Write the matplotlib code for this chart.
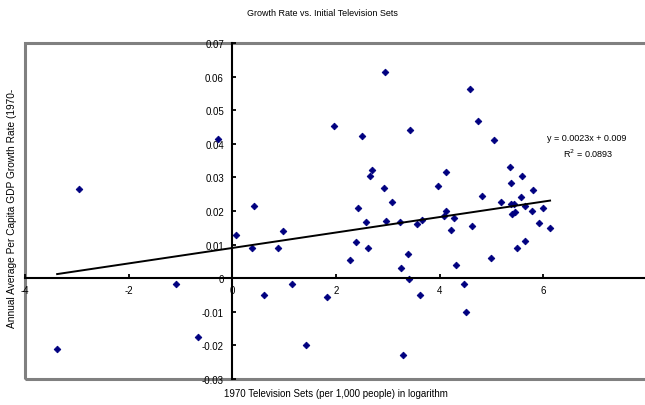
import numpy as np
import matplotlib
matplotlib.use("Agg")
import matplotlib.pyplot as plt
from matplotlib.patches import Rectangle

plt.rcParams['font.family'] = ['Liberation Sans Narrow', 'Liberation Sans', 'DejaVu Sans']

# log of 1970 TV sets per 1,000 people
tv_log = [-3.38, -2.96, -1.08, -0.66, -0.28, 0.08, 0.37, 0.42, 0.62, 0.88,
          0.97, 1.15, 1.42, 1.83, 1.96, 2.27, 2.38, 2.42, 2.50, 2.58,
          2.61, 2.65, 2.70, 2.92, 2.95, 2.96, 3.08, 3.23, 3.25, 3.29,
          3.38, 3.41, 3.42, 3.57, 3.63, 3.65, 3.96, 4.08, 4.12, 4.13,
          4.21, 4.28, 4.31, 4.47, 4.50, 4.58, 4.62, 4.73, 4.81, 5.00,
          5.04, 5.19, 5.35, 5.37, 5.38, 5.40, 5.43, 5.46, 5.49, 5.56,
          5.58, 5.64, 5.65, 5.79, 5.81, 5.92, 5.99, 6.13]
# annual average per capita GDP growth rate
growth = [-0.0210, 0.0266, -0.0018, -0.0174, 0.0415, 0.0129, 0.0089, 0.0216, -0.0049, 0.0089,
          0.0140, -0.0018, -0.0199, -0.0055, 0.0453, 0.0053, 0.0107, 0.0208, 0.0423, 0.0166,
          0.0089, 0.0305, 0.0322, 0.0268, 0.0614, 0.0171, 0.0226, 0.0166, 0.0029, -0.0228,
          0.0072, -0.0001, 0.0442, 0.0161, -0.0049, 0.0173, 0.0274, 0.0186, 0.0316, 0.0201,
          0.0142, 0.0178, 0.0039, -0.0016, -0.0101, 0.0564, 0.0154, 0.0468, 0.0244, 0.0059,
          0.0411, 0.0226, 0.0331, 0.0221, 0.0284, 0.0191, 0.0221, 0.0198, 0.0089, 0.0241,
          0.0304, 0.0112, 0.0214, 0.0199, 0.0263, 0.0163, 0.0208, 0.0148]

slope = 0.0023
intercept = 0.009
r2 = 0.0893

x_ticks = [-4, -2, 0, 2, 4, 6]
y_ticks = [-0.03, -0.02, -0.01, 0, 0.01, 0.02, 0.03, 0.04, 0.05, 0.06, 0.07]
y_ticklabels = ['-0.03', '-0.02', '-0.01', '0', '0.01', '0.02', '0.03',
                '0.04', '0.05', '0.06', '0.07']

fig = plt.figure(figsize=(6.45, 4.06), dpi=100)
W, H = 645, 406
ax = fig.add_axes([25 / W, 26 / H, 622 / W, 336 / H])

ax.plot(tv_log, growth, linestyle='none', marker='D', markersize=3.4,
        color='#000080', markeredgecolor='#000080', markeredgewidth=0.6)

xs = np.array([min(tv_log), max(tv_log)])
ax.plot(xs, slope * xs + intercept, color='black', lw=1.4)

ax.set_xlim(-4, 8)
ax.set_ylim(-0.03, 0.07)

for s in ['top', 'right']:
    ax.spines[s].set_visible(False)
ax.spines['left'].set_position(('data', 0))
ax.spines['bottom'].set_position(('data', 0))
for s in ['left', 'bottom']:
    ax.spines[s].set_linewidth(1.5)

ax.set_xticks(x_ticks)
ax.set_xticklabels([str(v) for v in x_ticks])
ax.set_yticks(y_ticks)
ax.set_yticklabels(y_ticklabels)
ax.tick_params(direction='in', length=3, width=1.3, labelsize=7, colors='black')
ax.tick_params(axis='x', pad=5)
ax.tick_params(axis='y', pad=6)

# plot area border
ax.add_patch(Rectangle((0, 0), 1, 1, transform=ax.transAxes, fill=False,
                       ec='#808080', lw=2.2, clip_on=False))

fig.text(322 / W, 1 - 13 / H, 'Growth Rate vs. Initial Television Sets',
         ha='center', va='center', fontsize=6.5)
fig.text(336 / W, 1 - 394 / H, '1970 Television Sets (per 1,000 people) in logarithm',
         ha='center', va='center', fontsize=7)
fig.text(12 / W, 1 - 208 / H, 'Annual Average Per Capita GDP Growth Rate (1970-',
         ha='center', va='center', rotation=90, fontsize=7.3)

fig.text(587 / W, 1 - 139 / H, 'y = 0.0023x + 0.009', ha='center', va='center', fontsize=6.5)
fig.text(588 / W, 1 - 154 / H, r'R$^2$ = 0.0893', ha='center', va='center', fontsize=6.5)

fig.savefig('out.png', dpi=100)
